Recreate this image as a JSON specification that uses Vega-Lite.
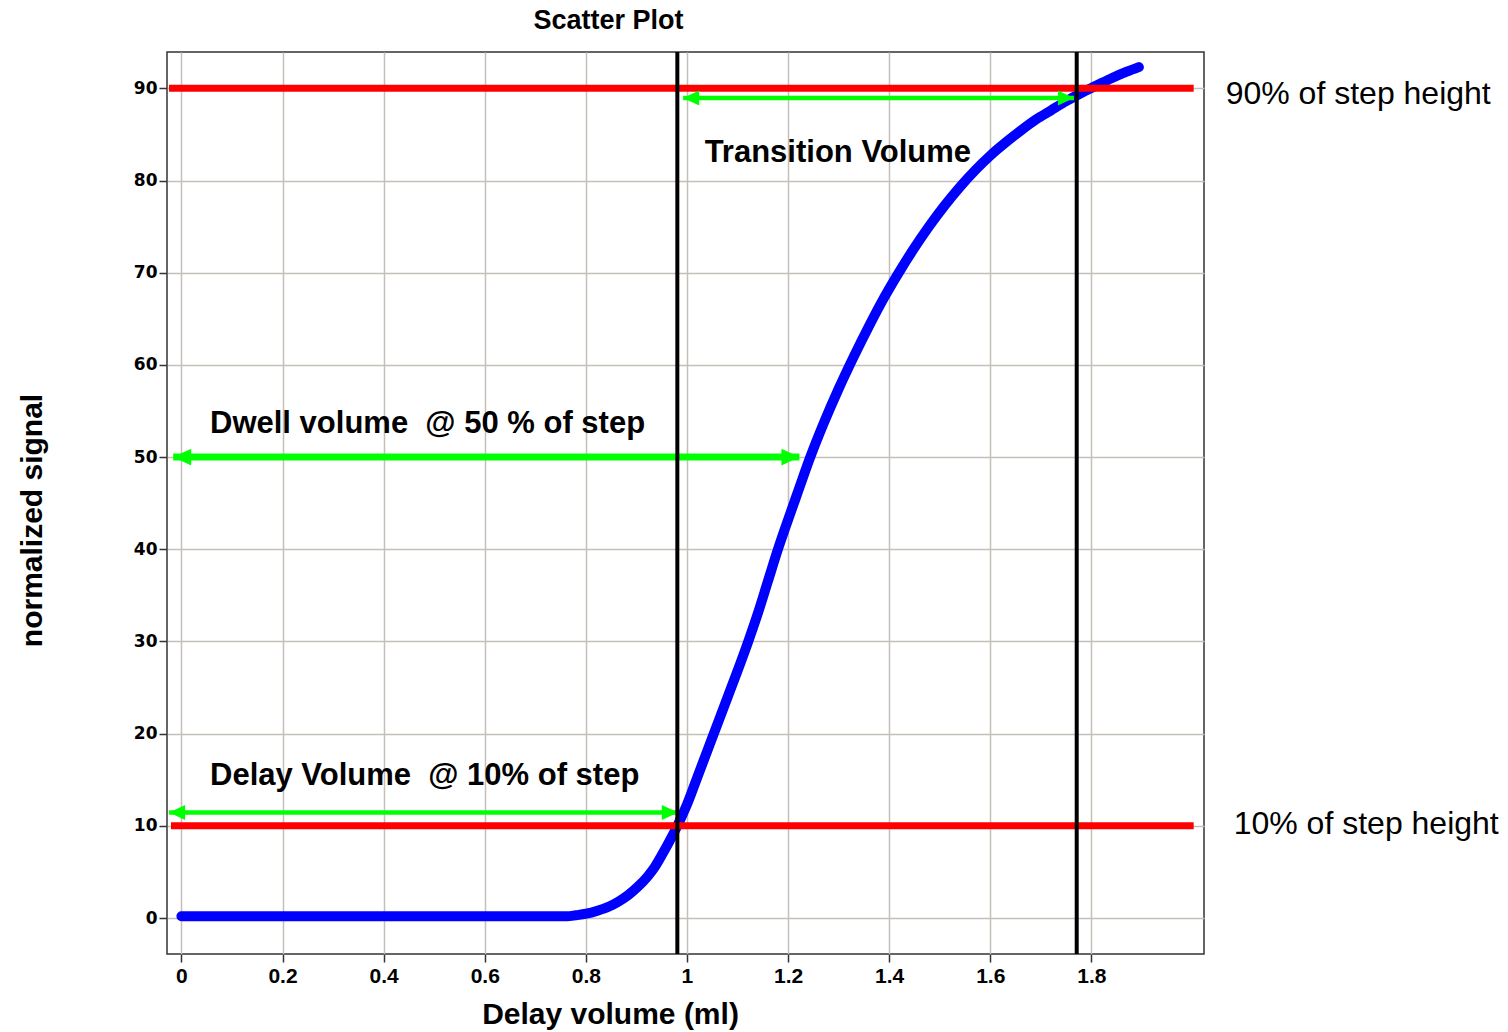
{
  "$schema": "https://vega.github.io/schema/vega-lite/v6.json",
  "width": 1037,
  "height": 902,
  "autosize": {"type": "none"},
  "padding": {"left": 167, "top": 52, "right": 304, "bottom": 78},
  "background": "white",
  "title": {
    "text": "Scatter Plot",
    "font": "Liberation Sans",
    "fontSize": 27,
    "fontWeight": "bold",
    "color": "black",
    "anchor": "middle",
    "frame": "group",
    "dx": -77,
    "baseline": "alphabetic",
    "offset": -6
  },
  "config": {
    "font": "Liberation Sans",
    "view": {"stroke": "#333333", "strokeWidth": 1.5},
    "axis": {
      "grid": true,
      "gridColor": "#c4c0b8",
      "gridWidth": 1.5,
      "domain": false,
      "tickColor": "#333333",
      "tickWidth": 1.5,
      "tickSize": 8,
      "labelColor": "black",
      "titleColor": "black",
      "labelOverlap": false,
      "labelFlush": false
    }
  },
  "datasets": {
    "curve": [
      {"volume": 0.0, "signal": 0.2},
      {"volume": 0.1, "signal": 0.2},
      {"volume": 0.2, "signal": 0.2},
      {"volume": 0.3, "signal": 0.2},
      {"volume": 0.4, "signal": 0.2},
      {"volume": 0.5, "signal": 0.2},
      {"volume": 0.6, "signal": 0.2},
      {"volume": 0.7, "signal": 0.2},
      {"volume": 0.763, "signal": 0.2},
      {"volume": 0.78, "signal": 0.3},
      {"volume": 0.801, "signal": 0.47},
      {"volume": 0.823, "signal": 0.8},
      {"volume": 0.846, "signal": 1.25},
      {"volume": 0.865, "signal": 1.8},
      {"volume": 0.884, "signal": 2.5},
      {"volume": 0.903, "signal": 3.4},
      {"volume": 0.922, "signal": 4.5},
      {"volume": 0.937, "signal": 5.6},
      {"volume": 0.952, "signal": 7.0},
      {"volume": 0.965, "signal": 8.3},
      {"volume": 0.981, "signal": 10.0},
      {"volume": 1.0, "signal": 12.3},
      {"volume": 1.02, "signal": 15.2},
      {"volume": 1.04, "signal": 18.1},
      {"volume": 1.06, "signal": 21.0},
      {"volume": 1.08, "signal": 23.9},
      {"volume": 1.1, "signal": 26.8},
      {"volume": 1.12, "signal": 29.8},
      {"volume": 1.14, "signal": 33.0},
      {"volume": 1.16, "signal": 36.5},
      {"volume": 1.18, "signal": 40.0},
      {"volume": 1.2, "signal": 43.2},
      {"volume": 1.22, "signal": 46.3},
      {"volume": 1.244, "signal": 50.0},
      {"volume": 1.27, "signal": 53.6},
      {"volume": 1.3, "signal": 57.4},
      {"volume": 1.33, "signal": 60.9},
      {"volume": 1.36, "signal": 64.2},
      {"volume": 1.39, "signal": 67.3},
      {"volume": 1.42, "signal": 70.1},
      {"volume": 1.45, "signal": 72.7},
      {"volume": 1.48, "signal": 75.1},
      {"volume": 1.51, "signal": 77.3},
      {"volume": 1.54, "signal": 79.3},
      {"volume": 1.57, "signal": 81.1},
      {"volume": 1.6, "signal": 82.7},
      {"volume": 1.63, "signal": 84.1},
      {"volume": 1.66, "signal": 85.4},
      {"volume": 1.69, "signal": 86.6},
      {"volume": 1.72, "signal": 87.6},
      {"volume": 1.75, "signal": 88.6},
      {"volume": 1.78, "signal": 89.5},
      {"volume": 1.81, "signal": 90.3},
      {"volume": 1.84, "signal": 91.1},
      {"volume": 1.87, "signal": 91.8},
      {"volume": 1.894, "signal": 92.3}
    ],
    "levels": [
      {"signal": 10, "from": -0.0206, "to": 2.0024},
      {"signal": 90, "from": -0.0245, "to": 2.0024}
    ],
    "markers": [
      {"volume": 0.981},
      {"volume": 1.771}
    ],
    "arrows": [
      {"name": "delay", "from": -0.0243, "to": 0.982, "signal": 11.45},
      {"name": "dwell", "from": -0.0162, "to": 1.2225, "signal": 50.0},
      {"name": "transition", "from": 0.9925, "to": 1.7655, "signal": 88.95}
    ],
    "notes": [
      {"text": "Delay Volume\u00a0 @ 10% of step", "volume": 0.0566, "signal": 14.45, "kind": "annotation"},
      {"text": "Dwell volume\u00a0 @ 50 % of step", "volume": 0.0566, "signal": 52.6, "kind": "annotation"},
      {"text": "Transition Volume", "volume": 1.035, "signal": 82.04, "kind": "annotation"},
      {"text": "90% of step height", "volume": 2.0657, "signal": 88.3, "kind": "level"},
      {"text": "10% of step height", "volume": 2.0815, "signal": 9.1, "kind": "level"}
    ]
  },
  "layer": [
    {
      "data": {"name": "curve"},
      "mark": {
        "type": "line",
        "color": "#0000ff",
        "strokeWidth": 10,
        "strokeCap": "round",
        "strokeJoin": "round",
        "interpolate": "monotone"
      },
      "encoding": {
        "x": {
          "field": "volume",
          "type": "quantitative",
          "scale": {"domain": [-0.0285, 2.0228], "nice": false, "zero": false},
          "axis": {
            "values": [0, 0.2, 0.4, 0.6, 0.8, 1, 1.2, 1.4, 1.6, 1.8],
            "format": "~g",
            "labelFont": "Liberation Sans",
            "labelFontWeight": "bold",
            "labelFontSize": 21,
            "labelPadding": 3,
            "title": "Delay volume (ml)",
            "titleFont": "Liberation Sans",
            "titleFontWeight": "bold",
            "titleFontSize": 30,
            "titleX": 443,
            "titleY": 69,
            "titleAlign": "center",
            "titleBaseline": "alphabetic"
          }
        },
        "y": {
          "field": "signal",
          "type": "quantitative",
          "scale": {"domain": [-3.9, 93.94], "nice": false, "zero": false},
          "axis": {
            "values": [0, 10, 20, 30, 40, 50, 60, 70, 80, 90],
            "labelFont": "DejaVu Sans",
            "labelFontWeight": "bold",
            "labelFontSize": 17,
            "labelPadding": 2,
            "title": "normalized signal",
            "titleFont": "Liberation Sans",
            "titleFontWeight": "bold",
            "titleFontSize": 30,
            "titleAngle": -90,
            "titleX": -126,
            "titleY": 468,
            "titleAlign": "center",
            "titleBaseline": "alphabetic"
          }
        }
      }
    },
    {
      "data": {"name": "levels"},
      "mark": {"type": "rule", "color": "#ff0000", "strokeWidth": 7},
      "encoding": {
        "x": {"field": "from", "type": "quantitative"},
        "x2": {"field": "to"},
        "y": {"field": "signal", "type": "quantitative"}
      }
    },
    {
      "data": {"name": "arrows"},
      "mark": {"type": "rule", "color": "#00ff00"},
      "encoding": {
        "x": {"field": "from", "type": "quantitative"},
        "x2": {"field": "to"},
        "y": {"field": "signal", "type": "quantitative"},
        "strokeWidth": {
          "field": "name",
          "type": "nominal",
          "scale": {"type": "ordinal", "domain": ["delay", "dwell", "transition"], "range": [4.5, 7, 4.5]},
          "legend": null
        }
      }
    },
    {
      "data": {"name": "arrows"},
      "transform": [{"fold": ["from", "to"], "as": ["end", "at"]}],
      "mark": {"type": "point", "filled": true, "color": "#00ff00", "opacity": 1, "strokeWidth": 0},
      "encoding": {
        "x": {"field": "at", "type": "quantitative"},
        "y": {"field": "signal", "type": "quantitative"},
        "shape": {
          "field": "end",
          "type": "nominal",
          "scale": {
            "domain": ["from", "to"],
            "range": ["M0,0L2,-0.94L2,0.94Z", "M0,0L-2,-0.94L-2,0.94Z"]
          },
          "legend": null
        },
        "size": {
          "field": "name",
          "type": "nominal",
          "scale": {"type": "ordinal", "domain": ["delay", "dwell", "transition"], "range": [256, 324, 256]},
          "legend": null
        }
      }
    },
    {
      "data": {"name": "markers"},
      "mark": {"type": "rule", "color": "black", "strokeWidth": 4},
      "encoding": {
        "x": {"field": "volume", "type": "quantitative"}
      }
    },
    {
      "data": {"name": "notes"},
      "transform": [{"filter": "datum.kind === 'annotation'"}],
      "mark": {
        "type": "text",
        "align": "left",
        "baseline": "alphabetic",
        "font": "Liberation Sans",
        "fontWeight": "bold",
        "fontSize": 31,
        "color": "black"
      },
      "encoding": {
        "x": {"field": "volume", "type": "quantitative"},
        "y": {"field": "signal", "type": "quantitative"},
        "text": {"field": "text"}
      }
    },
    {
      "data": {"name": "notes"},
      "transform": [{"filter": "datum.kind === 'level'"}],
      "mark": {
        "type": "text",
        "align": "left",
        "baseline": "alphabetic",
        "font": "Liberation Sans",
        "fontWeight": "normal",
        "fontSize": 32,
        "color": "black"
      },
      "encoding": {
        "x": {"field": "volume", "type": "quantitative"},
        "y": {"field": "signal", "type": "quantitative"},
        "text": {"field": "text"}
      }
    }
  ]
}
